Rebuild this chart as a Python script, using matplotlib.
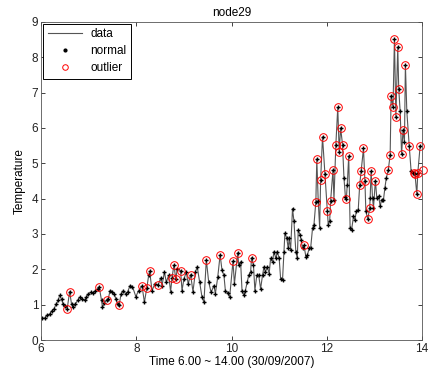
import matplotlib
matplotlib.use("Agg")
import matplotlib.pyplot as plt
from matplotlib.lines import Line2D

plt.rcParams['font.family'] = ['Liberation Sans', 'DejaVu Sans']

# time (hours) and temperature
hours = [
    6.02, 6.08, 6.13, 6.18, 6.23, 6.27, 6.32, 6.36, 6.39, 6.43, 6.46, 6.50, 6.55, 6.60,
    6.64, 6.67, 6.72, 6.77, 6.81, 6.86, 6.92, 6.95, 6.99, 7.05, 7.10, 7.14, 7.19, 7.22,
    7.27, 7.29, 7.33, 7.38, 7.41, 7.45, 7.50, 7.54, 7.57, 7.61, 7.64, 7.68, 7.73, 7.78,
    7.82, 7.87, 7.92, 7.99, 8.05, 8.12, 8.17, 8.22, 8.26, 8.28, 8.33, 8.39, 8.46, 8.51,
    8.54, 8.59, 8.63, 8.68, 8.72, 8.75, 8.79, 8.83, 8.86, 8.93, 8.96, 9.00, 9.05, 9.09,
    9.14, 9.19, 9.24, 9.28, 9.33, 9.38, 9.42, 9.47, 9.52, 9.57, 9.63, 9.66, 9.71, 9.76,
    9.80, 9.84, 9.87, 9.92, 9.96, 10.03, 10.06, 10.13, 10.15, 10.19, 10.22, 10.26, 10.29,
    10.33, 10.36, 10.40, 10.42, 10.46, 10.49, 10.53, 10.57, 10.61, 10.65, 10.68, 10.71,
    10.75, 10.79, 10.82, 10.86, 10.89, 10.93, 10.96, 11.00, 11.03, 11.07, 11.10, 11.12,
    11.16, 11.19, 11.21, 11.24, 11.28, 11.31, 11.35, 11.38, 11.40, 11.44, 11.46, 11.49,
    11.52, 11.56, 11.59, 11.63, 11.66, 11.70, 11.73, 11.77, 11.79, 11.82, 11.85, 11.87,
    11.91, 11.96, 12.01, 12.03, 12.06, 12.08, 12.13, 12.15, 12.19, 12.23, 12.26, 12.29,
    12.33, 12.36, 12.39, 12.41, 12.43, 12.46, 12.49, 12.52, 12.56, 12.59, 12.62, 12.66,
    12.69, 12.72, 12.77, 12.80, 12.82, 12.86, 12.90, 12.91, 12.93, 12.96, 12.98, 13.02,
    13.05, 13.09, 13.12, 13.15, 13.19, 13.22, 13.25, 13.29, 13.33, 13.35, 13.39, 13.42,
    13.45, 13.49, 13.51, 13.54, 13.57, 13.60, 13.63, 13.65, 13.68, 13.73, 13.77, 13.80,
    13.83, 13.85, 13.89, 13.91, 13.96,
]
temperature = [
    0.61, 0.62, 0.71, 0.73, 0.83, 0.88, 1.02, 1.12, 1.26, 1.16, 1.02, 0.97, 0.89, 1.37,
    1.02, 0.92, 1.02, 1.12, 1.21, 1.16, 1.12, 1.21, 1.30, 1.35, 1.33, 1.40, 1.45, 1.51,
    1.12, 0.92, 1.06, 1.12, 1.16, 1.40, 1.37, 1.30, 1.16, 1.02, 0.99, 1.30, 1.40, 1.30,
    1.37, 1.54, 1.51, 1.23, 1.40, 1.53, 1.07, 1.47, 1.83, 1.95, 1.40, 1.59, 1.56, 1.75,
    1.54, 1.92, 1.64, 1.83, 1.37, 1.76, 2.12, 1.72, 2.02, 1.96, 1.40, 1.73, 1.92, 1.59,
    1.85, 1.37, 1.92, 2.07, 1.64, 1.21, 1.07, 2.27, 1.64, 1.35, 1.54, 1.31, 1.78, 2.41,
    1.97, 1.83, 1.40, 1.33, 1.21, 2.23, 1.59, 2.47, 2.12, 2.21, 1.40, 1.26, 1.40,
    1.64, 1.83, 1.92, 2.33, 2.12, 1.40, 1.83, 1.83, 1.45, 1.83, 2.07, 1.92,
    2.07, 1.88, 2.31, 2.21, 2.50, 2.31, 2.50, 2.31, 1.74, 1.69, 2.50, 3.02,
    2.88, 2.59, 2.88, 2.55, 3.72, 3.36, 2.50, 2.31, 3.11, 2.97, 2.83, 2.59,
    2.68, 2.36, 2.40, 2.59, 2.59, 3.16, 3.26, 3.91, 5.12, 3.92, 3.18, 4.52,
    5.75, 4.71, 3.66, 3.26, 3.36, 3.94, 4.81, 3.97, 5.53, 6.58, 5.33, 6.00,
    5.53, 4.59, 4.06, 3.99, 4.40, 5.20, 3.16, 3.11, 3.50, 3.40, 3.64, 3.69,
    4.38, 4.78, 5.42, 4.50, 3.64, 3.42, 3.73, 4.02, 4.77, 4.02, 3.74, 4.51,
    4.02, 4.07, 3.78, 3.97, 3.97, 4.31, 4.59, 4.81, 5.23, 6.91, 6.59, 8.53,
    6.31, 8.29, 7.11, 6.47, 5.25, 5.93, 5.59, 7.79, 6.47, 5.50, 4.78, 4.73,
    4.72, 4.71, 4.12, 4.72, 5.50,
]
# hours flagged as outliers
outlier_hours = [
    6.55, 6.60, 7.22, 7.38, 7.64, 8.12, 8.22, 8.28, 8.46, 8.75, 8.79, 8.83, 8.93, 9.14,
    9.47, 9.76, 10.03, 10.13, 10.42, 11.52, 11.77, 11.79, 11.87, 11.91, 11.96, 12.01,
    12.08, 12.13, 12.19, 12.23, 12.26, 12.29, 12.33, 12.41, 12.46, 12.69, 12.72, 12.77,
    12.80, 12.86, 12.90, 12.93, 13.02, 13.29, 13.33, 13.35, 13.39, 13.42, 13.45, 13.49,
    13.51, 13.57, 13.60, 13.65, 13.73, 13.83, 13.85, 13.89, 13.91, 13.96,
]
# extra outlier circle on the right edge
edge_outlier = (14.01, 4.81)

out_t = [t for t in hours if t in outlier_hours] + [edge_outlier[0]]
out_v = [v for t, v in zip(hours, temperature) if t in outlier_hours] + [edge_outlier[1]]

fig = plt.figure(figsize=(4.32, 3.78), dpi=100)
ax = fig.add_axes([0.095, 0.1005, 0.882, 0.8415])

ax.plot(hours, temperature, color='#555555', lw=0.8)
ax.plot(hours, temperature, ls='none', marker='+', ms=3, mew=1.0, color='black')
ax.plot(out_t, out_v, ls='none', marker='o', ms=5.5, mfc='none', mec='red', mew=0.7,
        clip_on=False)

ax.set_xlim(6, 14)
ax.set_ylim(0, 9)
ax.set_xticks([6, 8, 10, 12, 14])
ax.set_yticks(range(10))
ax.tick_params(direction='in', top=True, right=True, labelsize=8.5, length=3,
               width=0.6, pad=2, colors='#222222')
for s in ax.spines.values():
    s.set_linewidth(0.6)
    s.set_color('#555555')

ax.set_title('node29', fontsize=8.5, pad=4)
ax.set_xlabel('Time 6.00 ~ 14.00 (30/09/2007)', fontsize=8.5, labelpad=1)
ax.set_ylabel('Temperature', fontsize=8.5, labelpad=4)

handles = [
    Line2D([], [], color='#555555', lw=0.8),
    Line2D([], [], ls='none', marker='.', ms=4, color='black'),
    Line2D([], [], ls='none', marker='o', ms=4, mfc='none', mec='red', mew=0.7),
]
leg = ax.legend(handles, ['data', 'normal', 'outlier'], loc='upper left',
                fontsize=8.5, fancybox=False, framealpha=1, edgecolor='black',
                borderaxespad=0.15, handlelength=2.9, labelspacing=0.42,
                borderpad=0.4, handletextpad=0.7)
leg.get_frame().set_linewidth(0.7)

fig.savefig('out.png', dpi=100)
